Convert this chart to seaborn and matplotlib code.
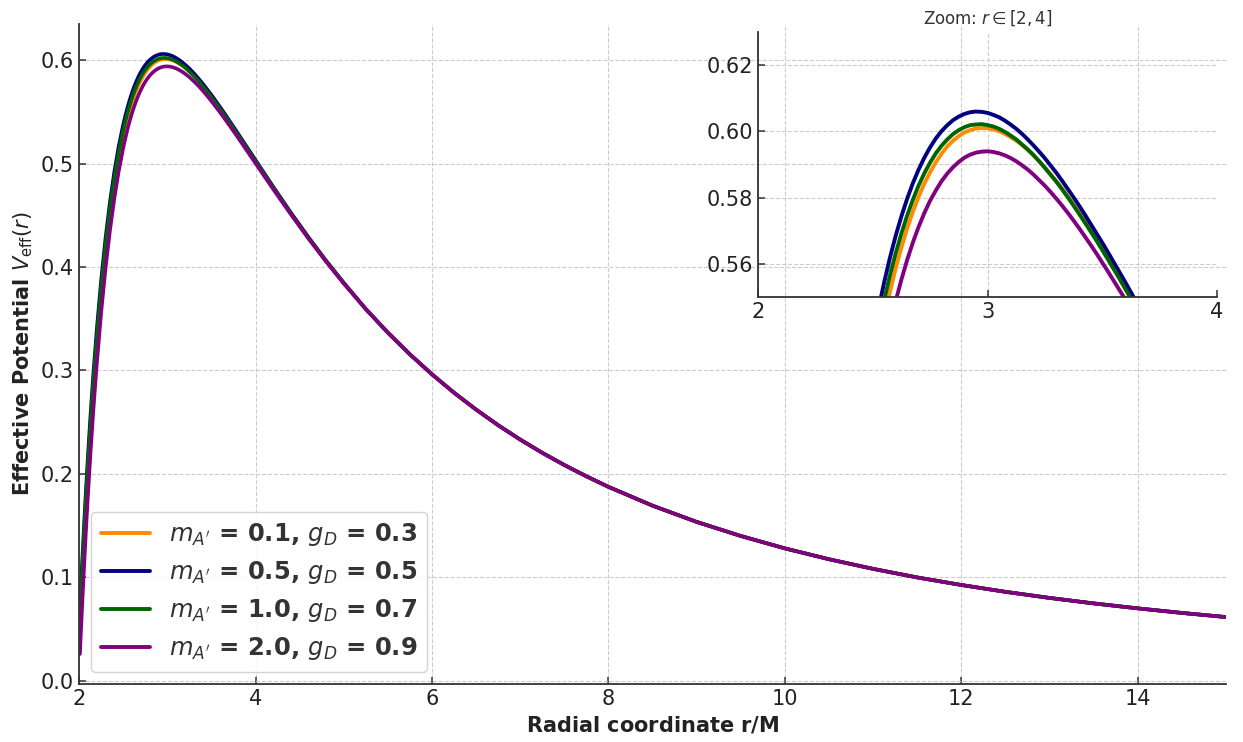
import matplotlib
matplotlib.use("Agg")
import matplotlib.pyplot as plt
from matplotlib.ticker import FormatStrFormatter
import pandas as pd
import seaborn as sns

# Radial grid near the photon-sphere peak (r/M)
r_near = [2.01, 2.02, 2.04, 2.06, 2.08, 2.10, 2.13, 2.16, 2.20, 2.25, 2.30, 2.35, 2.40, 2.45,
          2.50, 2.55, 2.60, 2.65, 2.70, 2.75, 2.80, 2.85, 2.90, 2.95, 3.00, 3.05, 3.10, 3.15,
          3.20, 3.25, 3.30, 3.35, 3.40, 3.45, 3.50, 3.55, 3.60, 3.65, 3.70, 3.80, 3.90, 4.00,
          4.20, 4.40, 4.60, 4.80, 5.00]

v_orange = [0.0422, 0.0611, 0.0972, 0.1312, 0.1632, 0.1933, 0.2352, 0.2734, 0.3191, 0.3689,
            0.4113, 0.4475, 0.4782, 0.5041, 0.5258, 0.5438, 0.5587, 0.5707, 0.5803, 0.5877,
            0.5933, 0.5972, 0.5997, 0.6009, 0.6010, 0.6001, 0.5983, 0.5959, 0.5928, 0.5891,
            0.5850, 0.5804, 0.5755, 0.5703, 0.5648, 0.5591, 0.5533, 0.5473, 0.5411, 0.5286,
            0.5159, 0.5031, 0.4773, 0.4522, 0.4283, 0.4056, 0.3843]

v_navy = [0.0691, 0.0876, 0.1228, 0.1560, 0.1872, 0.2165, 0.2573, 0.2944, 0.3387, 0.3869,
          0.4279, 0.4627, 0.4921, 0.5169, 0.5375, 0.5545, 0.5685, 0.5797, 0.5885, 0.5952,
          0.6001, 0.6034, 0.6053, 0.6060, 0.6056, 0.6043, 0.6021, 0.5993, 0.5958, 0.5919,
          0.5875, 0.5826, 0.5775, 0.5720, 0.5664, 0.5605, 0.5545, 0.5483, 0.5420, 0.5293,
          0.5163, 0.5034, 0.4777, 0.4527, 0.4289, 0.4062, 0.3849]

v_green = [0.0609, 0.0795, 0.1148, 0.1481, 0.1794, 0.2088, 0.2497, 0.2870, 0.3315, 0.3799,
           0.4212, 0.4563, 0.4859, 0.5109, 0.5318, 0.5491, 0.5632, 0.5746, 0.5837, 0.5906,
           0.5957, 0.5992, 0.6013, 0.6021, 0.6019, 0.6008, 0.5988, 0.5961, 0.5929, 0.5890,
           0.5848, 0.5801, 0.5750, 0.5697, 0.5642, 0.5584, 0.5525, 0.5464, 0.5403, 0.5277,
           0.5149, 0.5021, 0.4767, 0.4519, 0.4282, 0.4057, 0.3845]

v_purple = [0.0259, 0.0449, 0.0813, 0.1155, 0.1478, 0.1782, 0.2204, 0.2590, 0.3052, 0.3555,
            0.3985, 0.4352, 0.4664, 0.4928, 0.5150, 0.5335, 0.5488, 0.5612, 0.5712, 0.5791,
            0.5850, 0.5892, 0.5921, 0.5936, 0.5940, 0.5934, 0.5920, 0.5898, 0.5870, 0.5836,
            0.5797, 0.5754, 0.5707, 0.5657, 0.5604, 0.5549, 0.5493, 0.5434, 0.5375, 0.5253,
            0.5128, 0.5003, 0.4753, 0.4510, 0.4275, 0.4052, 0.3841]

# Extra samples across the peak, between the points above
r_fine = [2.525, 2.575, 2.625, 2.675, 2.725, 2.775, 2.825, 2.875, 2.925, 2.975, 3.025, 3.075,
          3.125, 3.175, 3.225, 3.275, 3.325, 3.375, 3.425, 3.475, 3.525, 3.575, 3.625, 3.675]

v_orange_fine = [0.5352, 0.5516, 0.5650, 0.5758, 0.5843, 0.5907, 0.5955, 0.5986, 0.6004, 0.6010,
                 0.6006, 0.5993, 0.5972, 0.5944, 0.5910, 0.5871, 0.5828, 0.5780, 0.5729, 0.5676,
                 0.5620, 0.5562, 0.5503, 0.5442]

v_navy_fine = [0.5464, 0.5619, 0.5744, 0.5844, 0.5921, 0.5979, 0.6019, 0.6045, 0.6058, 0.6059,
               0.6050, 0.6033, 0.6008, 0.5976, 0.5939, 0.5897, 0.5851, 0.5801, 0.5748, 0.5692,
               0.5635, 0.5575, 0.5514, 0.5452]

v_green_fine = [0.5408, 0.5565, 0.5692, 0.5794, 0.5874, 0.5934, 0.5976, 0.6004, 0.6019, 0.6022,
                0.6015, 0.5999, 0.5976, 0.5946, 0.5910, 0.5869, 0.5825, 0.5776, 0.5724, 0.5670,
                0.5613, 0.5555, 0.5495, 0.5434]

v_purple_fine = [0.5246, 0.5415, 0.5553, 0.5665, 0.5754, 0.5822, 0.5873, 0.5908, 0.5930, 0.5939,
                 0.5938, 0.5928, 0.5910, 0.5885, 0.5853, 0.5817, 0.5776, 0.5731, 0.5682, 0.5631,
                 0.5577, 0.5521, 0.5464, 0.5405]

# Far region, where all four potentials coincide
r_tail = [5.25, 5.5, 5.75, 6.0, 6.25, 6.5, 6.75, 7.0, 7.25, 7.5, 7.75, 8.0, 8.5, 9.0, 9.5,
          10.0, 10.5, 11.0, 11.5, 12.0, 12.5, 13.0, 13.5, 14.0, 14.5, 15.0]
v_tail = [0.3594, 0.3366, 0.3156, 0.2963, 0.2785, 0.2622, 0.2471, 0.2332, 0.2204, 0.2086,
          0.1977, 0.1875, 0.1693, 0.1536, 0.1400, 0.1280, 0.1175, 0.1082, 0.0999, 0.0926,
          0.0860, 0.0801, 0.0748, 0.0700, 0.0656, 0.0616]

labels = [r"$m_{A'}$ = 0.1, $g_D$ = 0.3",
          r"$m_{A'}$ = 0.5, $g_D$ = 0.5",
          r"$m_{A'}$ = 1.0, $g_D$ = 0.7",
          r"$m_{A'}$ = 2.0, $g_D$ = 0.9"]
colors = ["darkorange", "navy", "darkgreen", "purple"]

sns.set_theme(style="whitegrid")
plt.rcParams.update({
    "font.family": ["DejaVu Sans"],
    "axes.edgecolor": "#333333",
    "axes.linewidth": 1.3,
    "grid.color": "#cccccc",
    "grid.linestyle": "--",
    "grid.linewidth": 0.8,
    "xtick.direction": "in",
    "ytick.direction": "in",
    "xtick.bottom": True,
    "ytick.left": True,
    "xtick.major.size": 5,
    "ytick.major.size": 5,
    "xtick.major.width": 1.1,
    "ytick.major.width": 1.1,
    "xtick.color": "#333333",
    "ytick.color": "#333333",
    "xtick.labelcolor": "#222222",
    "ytick.labelcolor": "#222222",
    "lines.linewidth": 2.6,
})

series = [(v_orange, v_orange_fine), (v_navy, v_navy_fine),
          (v_green, v_green_fine), (v_purple, v_purple_fine)]
frames = []
for lab, (vals, fine) in zip(labels, series):
    frames.append(pd.DataFrame({"r": r_near + r_fine + r_tail,
                                "V": vals + fine + v_tail,
                                "model": lab}))
df = pd.concat(frames, ignore_index=True)
palette = dict(zip(labels, colors))

fig = plt.figure(figsize=(12.43, 7.42), dpi=100)
ax = fig.add_axes([0.0636, 0.0782, 0.9227, 0.8895])

sns.lineplot(data=df, x="r", y="V", hue="model", hue_order=labels, palette=palette,
             linewidth=2.6, estimator=None, sort=True, ax=ax)

ax.set_xlim(2, 15)
ax.set_xticks([2, 4, 6, 8, 10, 12, 14])
ax.set_yticks([0.0, 0.1, 0.2, 0.3, 0.4, 0.5, 0.6])
ax.yaxis.set_major_formatter(FormatStrFormatter("%.1f"))
ax.tick_params(labelsize=15)
ax.grid(True, linestyle="--", color="#cccccc", linewidth=0.8)
for side in ("top", "right"):
    ax.spines[side].set_visible(False)

ax.set_xlabel(r"Radial coordinate $\mathbf{r/M}$", fontsize=15, fontweight="bold",
              color="#222222")
ax.set_ylabel(r"Effective Potential $V_{\rm eff}(r)$", fontsize=15, fontweight="bold",
              color="#222222")

old = ax.get_legend()
handles = old.legend_handles
hl = [t.get_text() for t in old.get_texts()]
old.remove()
leg = ax.legend(handles, hl, loc="lower left", prop={"weight": "bold", "size": 17.5},
                frameon=True, fancybox=True, framealpha=0.85, edgecolor="#cccccc",
                handlelength=2.0, handletextpad=0.8, borderpad=0.4, labelspacing=0.45)
for t in leg.get_texts():
    t.set_color("#333333")
for h in leg.legend_handles:
    h.set_linewidth(2.8)

# Close-up of the peak region
axin = fig.add_axes([0.6098, 0.5997, 0.3693, 0.3571])
axin.patch.set_alpha(0.0)
sns.lineplot(data=df, x="r", y="V", hue="model", hue_order=labels, palette=palette,
             linewidth=2.8, estimator=None, sort=True, legend=False, ax=axin)
axin.set_xlim(2, 4)
axin.set_ylim(0.55, 0.63)
axin.set_xticks([2, 3, 4])
axin.set_yticks([0.56, 0.58, 0.60, 0.62])
axin.yaxis.set_major_formatter(FormatStrFormatter("%.2f"))
axin.tick_params(labelsize=15)
axin.grid(True, linestyle="--", color="#cccccc", linewidth=0.8)
axin.set_xlabel("")
axin.set_ylabel("")
for side in ("top", "right"):
    axin.spines[side].set_visible(False)
axin.set_title(r"Zoom: $r \in [2, 4]$", fontsize=12, color="#333333", pad=6)

fig.savefig("out.png", dpi=100)
